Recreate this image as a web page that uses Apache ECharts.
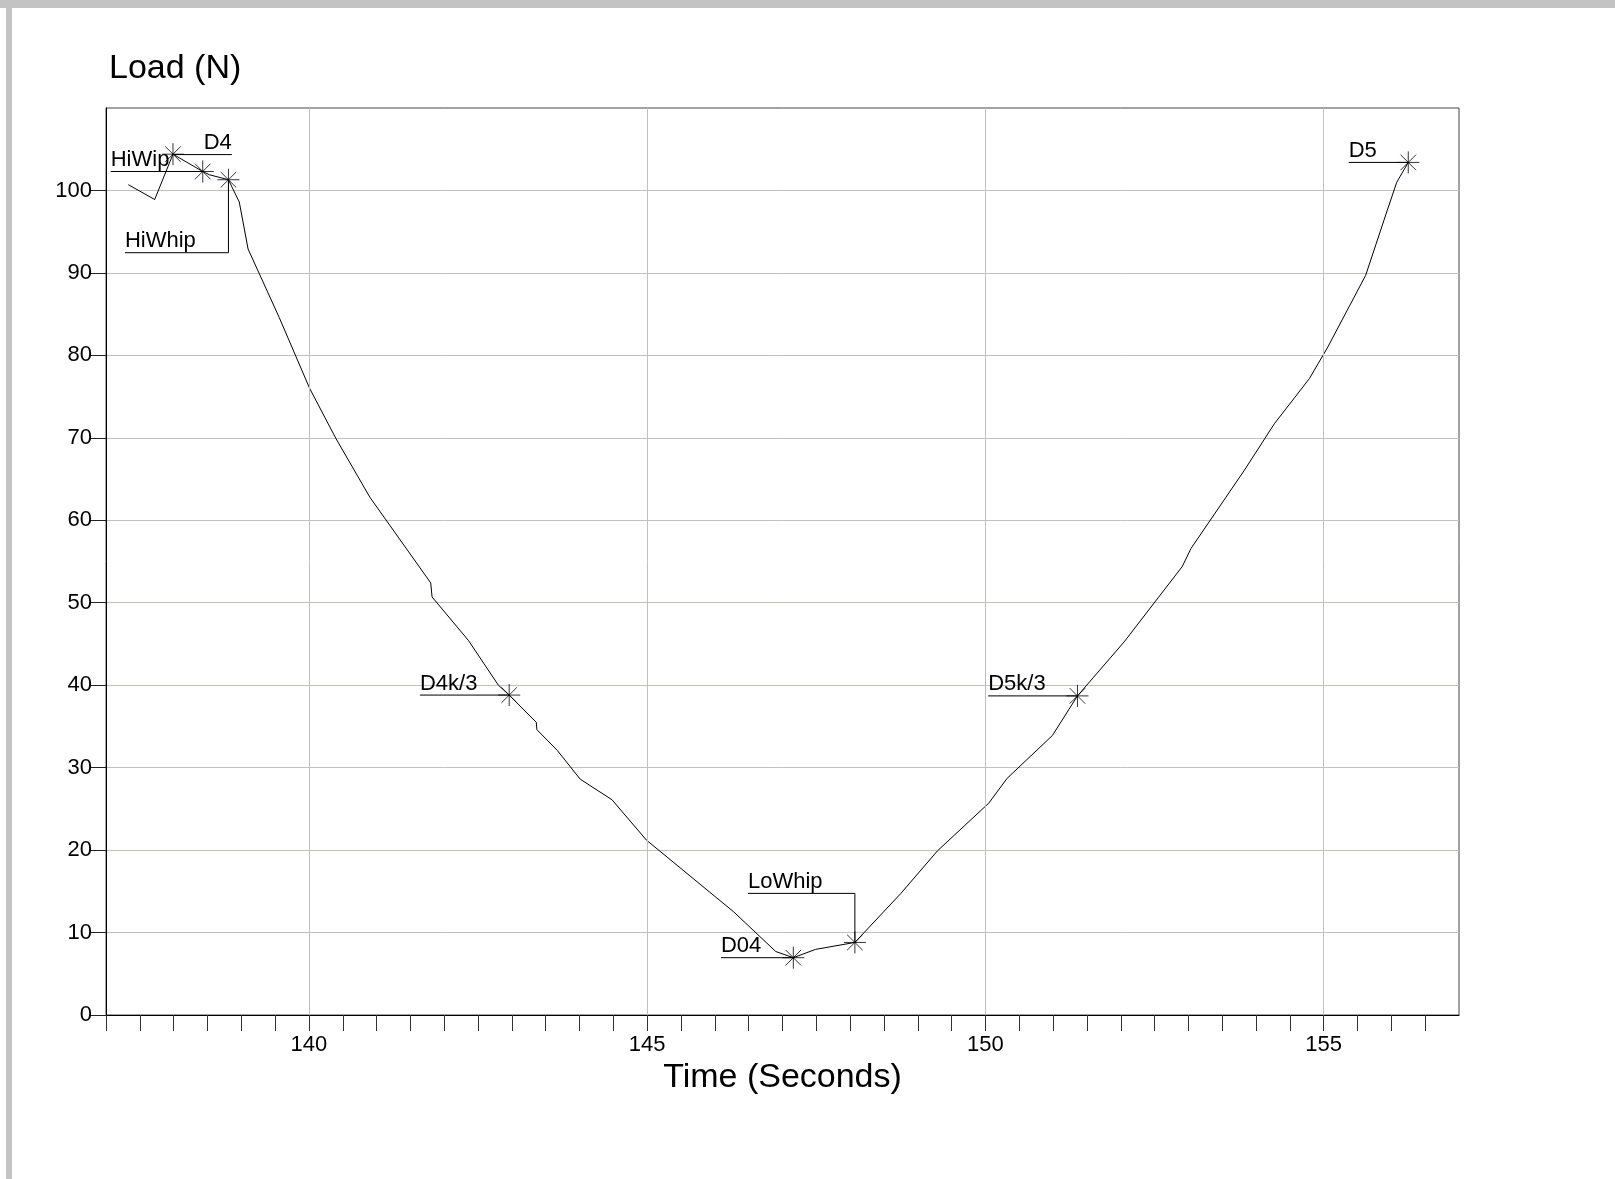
<!DOCTYPE html>
<html>
<head>
<meta charset="utf-8">
<script src="https://cdn.jsdelivr.net/npm/echarts@6/dist/echarts.min.js"></script>
<style>
html,body{margin:0;padding:0;background:#fff;}
#chart{position:absolute;left:0;top:0;width:1615px;height:1179px;}
.bar{position:absolute;background:#c3c3c3;z-index:5;}
</style>
</head>
<body>
<div id="chart"></div>
<div class="bar" style="left:0;top:0;width:1615px;height:8px;"></div>
<div class="bar" style="left:6px;top:0;width:6px;height:1179px;"></div>
<script>
// ---- data ----
const timeSec = [137.33,137.72,137.99,138.43,138.53,138.81,138.97,139.10,139.56,140.01,140.40,140.90,141.80,141.82,142.36,142.80,142.96,143.36,143.37,143.67,144.01,144.48,144.99,146.28,146.90,147.16,147.49,148.07,148.75,149.29,150.05,150.32,150.99,151.36,152.05,152.91,153.04,153.83,154.27,154.79,155.06,155.62,155.94,156.08,156.25];
const loadN   = [100.7,98.9,104.4,102.3,101.9,101.3,98.6,92.9,84.6,76.0,69.9,62.8,52.4,50.7,45.4,40.0,38.8,35.5,34.6,32.1,28.6,26.1,21.2,12.5,7.7,6.95,7.96,8.8,14.75,19.9,25.7,28.7,33.9,38.7,45.25,54.4,56.6,66.1,71.7,77.2,81.0,89.7,97.6,101.0,103.4];

const annNames = ['D4','HiWip','HiWhip','D4k/3','D04','LoWhip','D5k/3','D5'];
const annTime  = [137.99,138.43,138.81,142.96,147.16,148.07,151.36,156.25];
const annLoad  = [104.4,102.3,101.3,38.8,6.95,8.8,38.7,103.4];
// leader lines (data coordinates), label sits on the first point (D4: on the last)
const annLeaders = [
  [[137.99,104.35],[138.86,104.35]],
  [[137.07,102.3],[138.43,102.3]],
  [[137.28,92.45],[138.81,92.45],[138.81,101.3]],
  [[141.64,38.8],[142.96,38.8]],
  [[146.09,6.95],[147.16,6.95]],
  [[146.49,14.75],[148.07,14.75],[148.07,8.8]],
  [[150.04,38.7],[151.36,38.7]],
  [[155.37,103.4],[156.25,103.4]]
];
const annLabelAtEnd = [true,false,false,false,false,false,false,false];

const xMin = 137, xMax = 157, xMinorStep = 0.5;
const xTickLabels = [140,145,150,155];
const yTickLabels = [0,10,20,30,40,50,60,70,80,90,100];
const yMax = 110;

// ---- build ----
const curve = timeSec.map((t,i)=>[t,loadN[i]]);
const stars = annTime.map((t,i)=>[t,annLoad[i]]);
const xMinorTicks = [];
for (let v = xMin; v < xMax - 1e-9; v += xMinorStep) xMinorTicks.push(+v.toFixed(2));

const FONT = '"Liberation Sans", Arial, Helvetica, sans-serif';
const gridColor = '#c4c0b6';
const chart = echarts.init(document.getElementById('chart'), null, {renderer:'canvas'});

const option = {
  animation:false,
  backgroundColor:'#fff',
  title:{
    text:'Load (N)', left:104, top:47,
    textStyle:{fontFamily:FONT,fontSize:34,fontWeight:'normal',color:'#000'}
  },
  grid:{left:106, top:108, right:156, bottom:164, show:true, borderColor:'#444', borderWidth:1, backgroundColor:'transparent'},
  xAxis:{
    type:'value', min:xMin, max:xMax,
    name:'Time (Seconds)', nameLocation:'middle', nameGap:44,
    nameTextStyle:{fontFamily:FONT,fontSize:34,color:'#000'},
    axisLine:{show:true,lineStyle:{color:'#000',width:1}},
    axisTick:{show:true,inside:false,length:16,customValues:xMinorTicks,lineStyle:{color:'#333',width:1}},
    axisLabel:{show:true,customValues:xTickLabels,margin:19,fontFamily:FONT,fontSize:22,color:'#000'},
    splitLine:{show:false}
  },
  yAxis:{
    type:'value', min:0, max:yMax, interval:10,
    axisLine:{show:true,lineStyle:{color:'#000',width:1}},
    axisTick:{show:true,inside:false,length:16,customValues:yTickLabels,lineStyle:{color:'#222',width:1}},
    axisLabel:{show:true,customValues:yTickLabels,margin:14,fontFamily:FONT,fontSize:22,color:'#000'},
    splitLine:{show:true,lineStyle:{color:gridColor,width:1}}
  },
  series:[
    {
      type:'line', data:[], silent:true, z:1,
      markLine:{
        silent:true, symbol:['none','none'], label:{show:false},
        lineStyle:{color:gridColor,width:1,type:'solid'},
        data:xTickLabels.map(v=>({xAxis:v}))
      }
    },
    {
      type:'line', data:curve, showSymbol:false, symbol:'none', z:3,
      lineStyle:{color:'#000',width:1}, silent:true
    },
    {
      type:'custom', z:4, silent:true,
      data:annLeaders.map((p,i)=> annLabelAtEnd[i] ? p[p.length-1] : p[0]),
      encode:{x:0,y:1},
      renderItem:function(params, api){
        const i = params.dataIndex;
        const pts = annLeaders[i].map(p=>api.coord(p));
        const a = annLabelAtEnd[i] ? pts[pts.length-1] : pts[0];
        return {
          type:'group',
          children:[
            {type:'polyline', shape:{points:pts}, style:{stroke:'#000',lineWidth:1,fill:null}},
            {type:'text', x:a[0], y:a[1]-0.5, style:{
              text:annNames[i], fill:'#000', font:'22px '+FONT,
              align: annLabelAtEnd[i] ? 'right' : 'left', verticalAlign:'bottom'}}
          ]
        };
      }
    },
    {
      type:'scatter', data:stars, z:5, silent:true,
      symbol:'path://M0,-10L0,10M-10,0L10,0M-7.07,-7.07L7.07,7.07M-7.07,7.07L7.07,-7.07',
      symbolSize:22,
      itemStyle:{color:'none',borderColor:'#000',borderWidth:1}
    }
  ]
};
chart.setOption(option);
</script>
</body>
</html>
